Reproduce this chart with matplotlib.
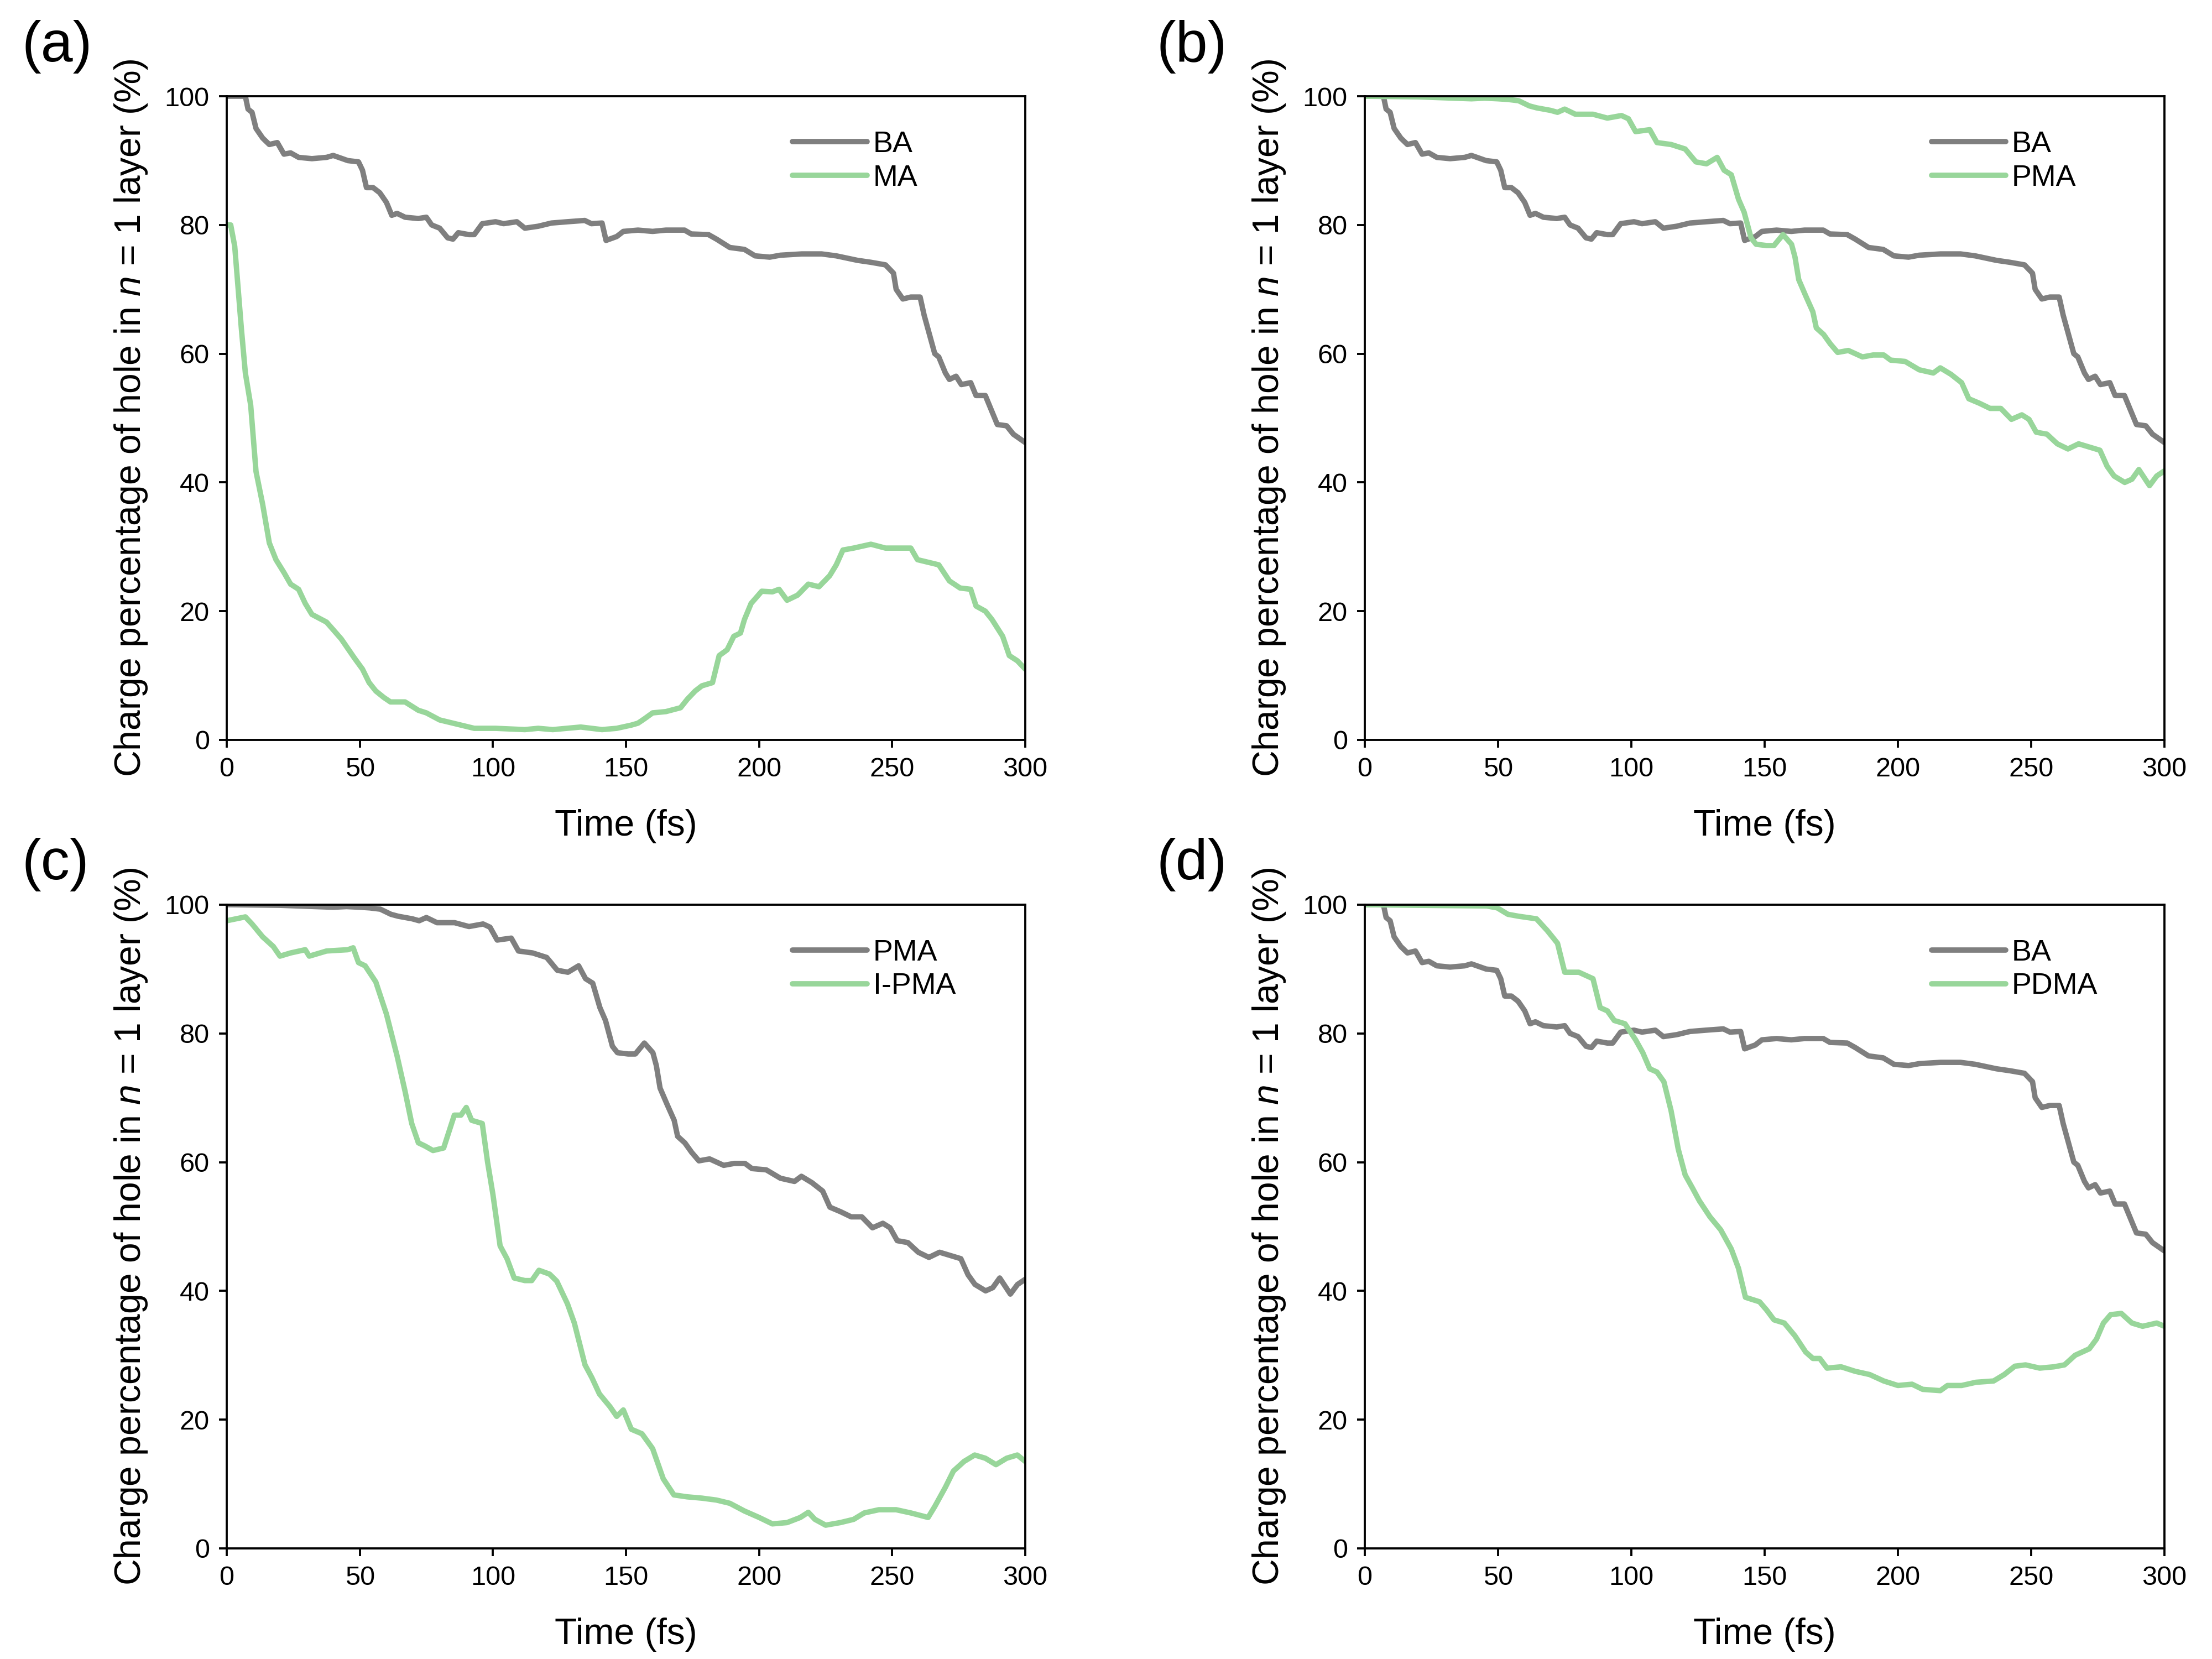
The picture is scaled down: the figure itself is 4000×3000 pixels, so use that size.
import matplotlib
matplotlib.use("Agg")
import matplotlib.pyplot as plt

plt.rcParams['font.family'] = ['Liberation Sans', 'DejaVu Sans']
plt.rcParams['mathtext.fontset'] = 'custom'
plt.rcParams['mathtext.rm'] = 'Liberation Sans'
plt.rcParams['mathtext.it'] = 'Liberation Sans:italic'

# ---- data (time in fs, charge in %) ----
t_ba = [0, 7, 8, 9.5, 11, 13.5, 16, 19, 21.5, 24, 27, 32, 37.5, 40, 45.5,
        49.5, 51, 52.5, 55, 57.5, 60, 62, 64, 67, 72, 75, 77, 80, 83, 85,
        87, 91, 93, 96, 101, 104, 109, 112, 117, 122, 128, 134.5, 137, 141, 142.5,
        146.5, 149, 154.5, 160, 165, 172, 174.5, 181, 184, 189, 194.5, 198.5, 204, 208, 216,
        223.5, 229, 237, 242, 247.5, 250.5, 251.5, 254, 257, 260.5, 262, 264, 266, 267.5, 270,
        271.5, 274, 276, 279.5, 281.5, 285, 287.5, 289.5, 293, 295.5, 300]
ba = [100, 100, 98, 97.5, 95, 93.5, 92.5, 92.8, 91, 91.2, 90.5, 90.3, 90.5, 90.8, 90,
      89.8, 88.5, 85.8, 85.8, 85, 83.5, 81.5, 81.8, 81.2, 81, 81.2, 80, 79.5, 78, 77.8,
      78.8, 78.5, 78.5, 80.2, 80.5, 80.2, 80.5, 79.5, 79.8, 80.3, 80.5, 80.7, 80.2, 80.3, 77.6,
      78.2, 79, 79.2, 79, 79.2, 79.2, 78.6, 78.5, 77.8, 76.5, 76.2, 75.2, 75, 75.3, 75.5,
      75.5, 75.2, 74.5, 74.2, 73.8, 72.5, 70, 68.5, 68.8, 68.8, 66, 63, 60, 59.5, 57,
      56, 56.5, 55.2, 55.5, 53.5, 53.5, 51, 49, 48.8, 47.5, 46.2]

t_ma = [0, 1.5, 3, 5.5, 7, 9, 11, 13.5, 16, 18.5, 21.5, 24, 27, 29.5, 32,
        37.5, 43, 48, 51, 53.5, 56, 59, 61.5, 67, 72, 75, 80, 88, 93, 101,
        112, 117, 122.5, 133, 141, 146.5, 152, 154.5, 157, 160, 165, 170.5, 173, 176, 178.5,
        182.5, 185, 188, 190.5, 193, 194.5, 197, 201, 205, 207.5, 210.5, 214.5, 218.5, 222.5, 226.5,
        229, 231.5, 235.5, 242, 247.5, 253, 257, 259.5, 263.5, 267.5, 271.5, 275.5, 279.5, 281.5, 285,
        287.5, 291.5, 294, 297, 300]
ma = [80, 80, 76.7, 63.9, 57, 52, 41.7, 36.6, 30.6, 28, 26, 24.2, 23.4, 21.2, 19.5,
      18.3, 15.7, 12.7, 11, 8.9, 7.6, 6.6, 5.9, 5.9, 4.6, 4.2, 3.1, 2.3, 1.8, 1.8,
      1.6, 1.8, 1.6, 2.0, 1.6, 1.8, 2.3, 2.6, 3.3, 4.2, 4.4, 5, 6.3, 7.6, 8.4,
      8.9, 13.1, 14, 16.1, 16.6, 18.7, 21.2, 23.1, 23, 23.4, 21.7, 22.5, 24.2, 23.8, 25.5,
      27.2, 29.5, 29.8, 30.4, 29.8, 29.8, 29.8, 28, 27.6, 27.2, 24.7, 23.6, 23.4, 20.8, 20,
      18.7, 16.1, 13.1, 12.3, 11]

t_pma = [0, 20, 40, 45, 50, 53.7, 57.7, 61.7, 64.4, 69.7, 72.3, 75, 79, 85.6, 91,
         96.3, 98.9, 101.6, 106.9, 109.6, 114.9, 120.2, 124.2, 128.2, 132.2, 134.8, 137.5, 140.2, 142.3, 143.6,
         144.9, 146.8, 150.8, 153.5, 156.9, 160.1, 161.4, 162.8, 165.4, 168.1, 169.4, 172.1, 174.7, 177.4, 181.4,
         186.7, 190.7, 194.7, 197.3, 202.7, 208, 213.3, 215.9, 219.9, 223.9, 226.6, 230.6, 234.6, 238.6, 242.6,
         246.5, 249.2, 251.9, 255.9, 259.8, 263.8, 267.8, 271.8, 275.8, 278.5, 281.1, 285.1, 287.8, 290.4, 294.4,
         297.1, 300]
pma = [100, 99.9, 99.6, 99.7, 99.6, 99.5, 99.3, 98.5, 98.2, 97.8, 97.5, 98, 97.2, 97.2, 96.6,
       97, 96.5, 94.5, 94.8, 92.8, 92.5, 91.8, 89.8, 89.5, 90.5, 88.5, 87.8, 84, 82, 80,
       78, 77, 76.8, 76.8, 78.5, 77, 75, 71.5, 69, 66.5, 64, 63, 61.5, 60.2, 60.5,
       59.5, 59.8, 59.8, 59, 58.8, 57.5, 57, 57.8, 56.8, 55.5, 53, 52.3, 51.5, 51.5, 49.8,
       50.5, 49.8, 47.8, 47.5, 46, 45.2, 46, 45.5, 45, 42.5, 41, 40, 40.5, 42, 39.5,
       41, 41.8]

t_ipma = [0, 7, 9.5, 13.5, 17.5, 20, 24, 29.5, 31, 37.5, 45.5, 47.5, 49.5, 52, 56,
          60, 64, 67, 69.5, 72, 74.5, 77.5, 81.5, 85.5, 88, 90, 92, 96, 98, 100,
          102.7, 105.3, 108, 112, 114.6, 117.3, 121.3, 124, 128, 130.6, 134.6, 137.2, 140, 144, 146.5,
          149, 152, 156, 160, 164, 168, 173, 178.5, 184, 189, 194.5, 200, 205, 210.5, 215.5,
          218.5, 221, 225, 230.5, 235.5, 239.5, 245, 251.5, 257, 263.5, 266, 270, 273, 277, 281,
          285, 289, 293, 297, 300]
ipma = [97.5, 98.1, 97, 95, 93.5, 92, 92.5, 93, 92, 92.8, 93, 93.3, 91, 90.5, 88,
        83, 76.5, 71, 66, 63, 62.5, 61.8, 62.2, 67.3, 67.3, 68.5, 66.5, 66, 60, 55,
        47, 45, 42, 41.6, 41.6, 43.2, 42.6, 41.5, 38, 35, 28.5, 26.5, 24, 22, 20.5,
        21.5, 18.5, 17.8, 15.5, 10.8, 8.3, 8, 7.8, 7.5, 7, 5.8, 4.8, 3.8, 4, 4.8,
        5.6, 4.5, 3.6, 4, 4.5, 5.5, 6, 6, 5.5, 4.8, 6.5, 9.5, 12, 13.5, 14.5,
        14, 13, 14, 14.5, 13.5]

t_pdma = [0, 20, 45.7, 49.7, 53.7, 57.7, 64.4, 68.4, 72.3, 75, 80.3, 85.6, 88.3, 91, 93.6,
          97.6, 101.6, 104.3, 106.9, 109.6, 112.2, 114.9, 117.6, 120.2, 122.9, 125.5, 129.5, 133.5, 137.5, 140.2,
          142.8, 148.1, 150.8, 153.5, 157.4, 161.4, 165.4, 168.1, 170.7, 173.4, 178.7, 184, 189.4, 194.7, 200,
          205.3, 209.3, 215.9, 218.6, 223.9, 229.3, 235.9, 239.9, 243.9, 247.9, 253.2, 258.5, 262.5, 266.5, 271.8,
          274.5, 277.1, 279.8, 283.8, 287.8, 291.8, 297.1, 300]
pdma = [100, 99.9, 99.8, 99.5, 98.5, 98.2, 97.8, 96, 94, 89.5, 89.5, 88.5, 84, 83.5, 82,
        81.5, 79, 77, 74.5, 74, 72.5, 68, 62, 58, 56, 54, 51.5, 49.5, 46.5, 43.5,
        39, 38.3, 37, 35.5, 35, 33, 30.5, 29.5, 29.5, 28, 28.2, 27.5, 27, 26, 25.3,
        25.5, 24.7, 24.5, 25.3, 25.3, 25.8, 26, 27, 28.3, 28.5, 28, 28.2, 28.5, 30, 31,
        32.5, 35, 36.3, 36.5, 35, 34.5, 35, 34.5]

gray = '#7f7f7f'
green = '#98d69a'

panels = [
    ('(a)', [(t_ba, ba, 'BA', gray), (t_ma, ma, 'MA', green)]),
    ('(b)', [(t_ba, ba, 'BA', gray), (t_pma, pma, 'PMA', green)]),
    ('(c)', [(t_pma, pma, 'PMA', gray), (t_ipma, ipma, 'I-PMA', green)]),
    ('(d)', [(t_ba, ba, 'BA', gray), (t_pdma, pdma, 'PDMA', green)]),
]

# axes positions [left, bottom, width, height] in figure fractions
boxes = [[0.1025, 0.554, 0.361, 0.388], [0.617, 0.554, 0.3615, 0.388],
         [0.1025, 0.0667, 0.361, 0.388], [0.617, 0.0667, 0.3615, 0.388]]
label_pos = [(0.010, 0.988), (0.523, 0.988), (0.010, 0.495), (0.523, 0.495)]

fig = plt.figure(figsize=(16, 12), dpi=250)

for (tag, series), box, lp in zip(panels, boxes, label_pos):
    ax = fig.add_axes(box)
    for t, y, name, c in series:
        ax.plot(t, y, color=c, lw=2.8, label=name, solid_capstyle='round')
    ax.set_xlim(0, 300)
    ax.set_ylim(0, 100)
    ax.set_xticks([0, 50, 100, 150, 200, 250, 300])
    ax.set_yticks([0, 20, 40, 60, 80, 100])
    ax.tick_params(direction='out', length=4, width=1.1, labelsize=14, pad=5)
    for s in ax.spines.values():
        s.set_linewidth(1.1)
    ax.set_xlabel('Time (fs)', fontsize=19, labelpad=14)
    ax.set_ylabel('Charge percentage of hole in $n$ = 1 layer (%)', fontsize=19, labelpad=8)
    ax.legend(loc='upper left', bbox_to_anchor=(0.69, 0.97), frameon=False,
              fontsize=15.5, handlelength=2.5, handletextpad=0.2, labelspacing=0.2,
              borderpad=0)
    fig.text(lp[0], lp[1], tag, fontsize=30, ha='left', va='top')

fig.savefig('out.png', dpi=250)
